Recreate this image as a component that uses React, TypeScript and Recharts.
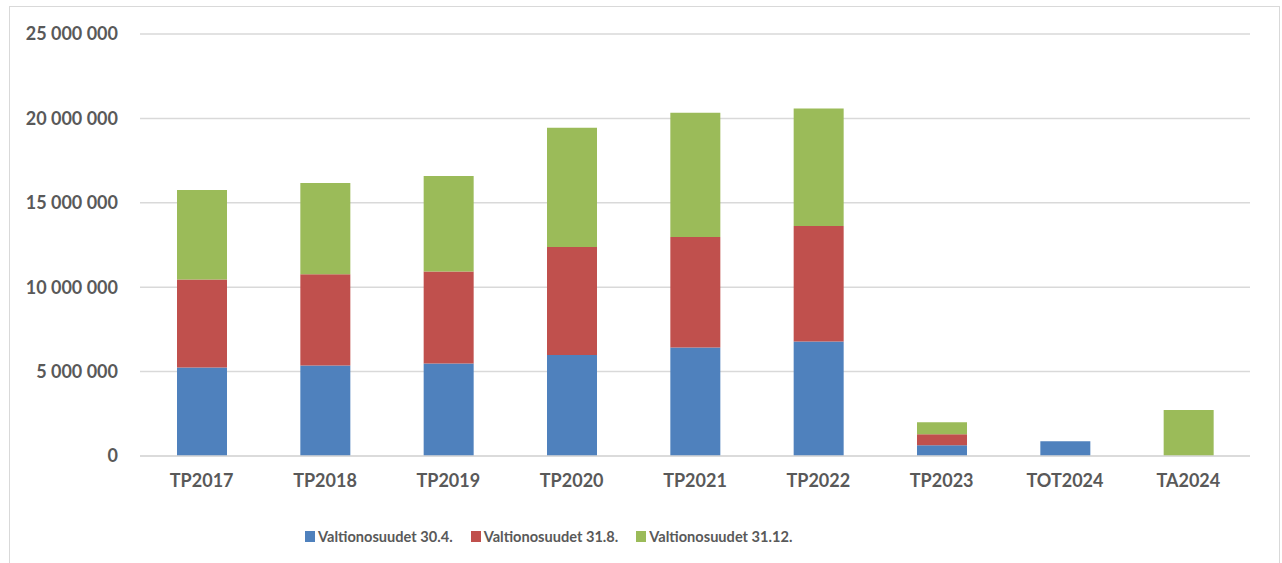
import React from 'react';
import { Bar, BarChart, CartesianGrid, Legend, XAxis, YAxis } from 'recharts';

const categories = ['TP2017', 'TP2018', 'TP2019', 'TP2020', 'TP2021', 'TP2022', 'TP2023', 'TOT2024', 'TA2024'];
const vos304 = [5240000, 5360000, 5480000, 5990000, 6430000, 6790000, 640000, 875000, 0];
const vos318 = [5220000, 5400000, 5450000, 6390000, 6550000, 6840000, 650000, 0, 0];
const vos3112 = [5300000, 5410000, 5660000, 7070000, 7360000, 6950000, 710000, 0, 2720000];
const yTicks = [0, 5000000, 10000000, 15000000, 20000000, 25000000];

const series = [
    { key: 'v304', name: 'Valtionosuudet 30.4.', color: '#4F81BD' },
    { key: 'v318', name: 'Valtionosuudet 31.8.', color: '#C0504D' },
    { key: 'v3112', name: 'Valtionosuudet 31.12.', color: '#9BBB59' },
];

const data = categories.map((name, i) => ({
    name,
    v304: vos304[i],
    v318: vos318[i],
    v3112: vos3112[i],
}));

const FONT = 'Lato, "Open Sans", sans-serif';
const TEXT = '#595959';

const fmt = (v: number) => v.toLocaleString('en-US').replace(/,/g, ' ');

function LegendContent() {
    return (
        <div style={{ display: 'flex', paddingLeft: 305, gap: 18, fontFamily: FONT, fontWeight: 700, fontSize: 14.6, color: TEXT }}>
            {series.map((s) => (
                <div key={s.key} style={{ display: 'flex', alignItems: 'center' }}>
                    <span style={{ width: 10, height: 11, background: s.color, display: 'inline-block', marginRight: 3 }} />
                    <span>{s.name}</span>
                </div>
            ))}
        </div>
    );
}

export default function App() {
    return (
        <div style={{ position: 'absolute', left: 0, top: 0, width: 1282, height: 563, background: '#fff', overflow: 'hidden' }}>
            <div style={{ position: 'absolute', left: 9, top: 6, width: 1269, height: 600, border: '1px solid #d9d9d9' }} />
            <div style={{ position: 'absolute', left: 0, top: 0 }}>
                <BarChart width={1282} height={563} data={data} margin={{ top: 34, right: 32, bottom: 50, left: 0 }}>
                    <CartesianGrid vertical={false} stroke="#d9d9d9" strokeWidth={1.5} />
                    <XAxis
                        dataKey="name"
                        axisLine={{ stroke: '#d9d9d9', strokeWidth: 1.5 }}
                        tickLine={false}
                        tickMargin={12}
                        height={40}
                        tick={{ fill: TEXT, fontFamily: FONT, fontWeight: 700, fontSize: 18 }}
                        interval={0}
                    />
                    <YAxis
                        domain={[0, 25000000]}
                        ticks={yTicks}
                        width={140}
                        axisLine={false}
                        tickLine={false}
                        tickMargin={16}
                        tickFormatter={fmt}
                        tick={{ fill: TEXT, fontFamily: FONT, fontWeight: 700, fontSize: 18 }}
                    />
                    <Legend verticalAlign="bottom" content={<LegendContent />} wrapperStyle={{ bottom: 18, left: 0, width: 1282 }} />
                    {series.map((s) => (
                        <Bar key={s.key} dataKey={s.key} name={s.name} stackId="a" fill={s.color} barSize={50} isAnimationActive={false} />
                    ))}
                </BarChart>
            </div>
        </div>
    );
}
